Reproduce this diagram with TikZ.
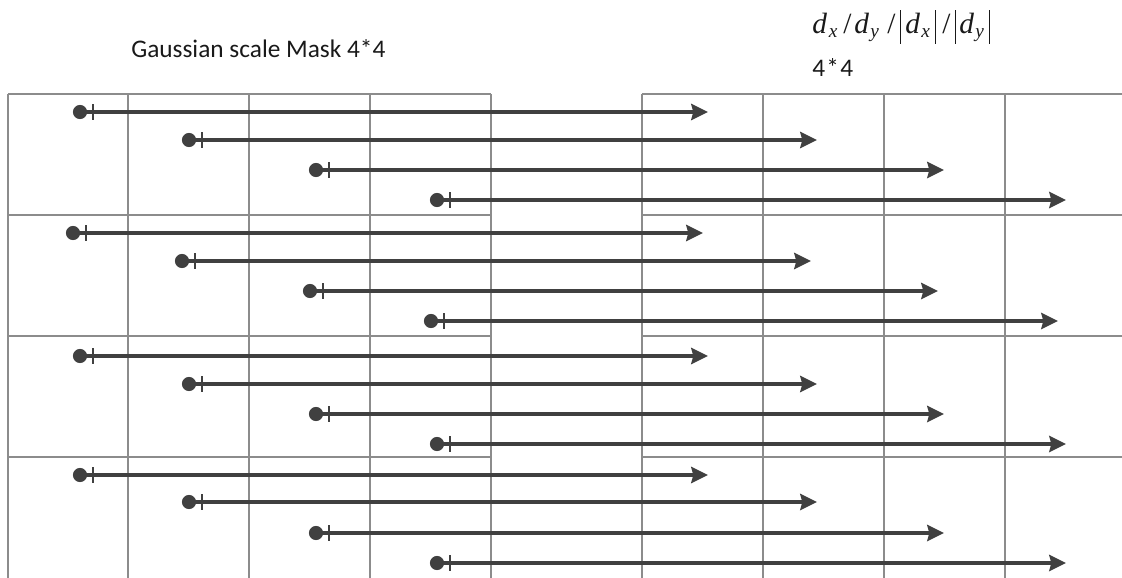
\documentclass[tikz,border=0pt]{standalone}
\usepackage{fontspec}
\setmainfont{Carlito}
\newfontfamily\tms{Liberation Serif}
\usetikzlibrary{arrows.meta}
\tikzset{
  gridline/.style={draw=gray!90, line width=0.8pt},
  vec/.style={draw=black!75, line width=2.9pt, -{Stealth[length=12.5pt,width=12pt,inset=1.5pt]}},
  dotstart/.style={fill=black!75},
  tick/.style={draw=black!75, line width=2.2pt},
  lbl/.style={inner sep=0pt, anchor=west, text=black!90}
}
% place content at a horizontal offset given in px (0.75pt)
\newcommand{\putat}[2]{\makebox[0pt][l]{\hspace*{#1\dimexpr0.75pt\relax}#2}}
\newcommand{\subx}[1]{\raisebox{-3.5pt}{\fontsize{14.5pt}{14.5pt}\selectfont\itshape #1}}
\newcommand{\vbar}{\rule[-8pt]{0.85pt}{25pt}}
\begin{document}
\begin{tikzpicture}[x=0.75pt,y=-0.75pt]
\useasboundingbox (0,0) rectangle (1122,578);
% left grid
\foreach \yy in {94,215,336,457} \draw[gridline] (8,\yy) -- (491,\yy);
\foreach \xx in {8,128,249,370,491} \draw[gridline] (\xx,94) -- (\xx,578);
% right grid
\foreach \yy in {94,215,336,457} \draw[gridline] (642,\yy) -- (1122,\yy);
\foreach \xx in {642,763,884,1005} \draw[gridline] (\xx,94) -- (\xx,578);
% labels
\node[lbl, font=\fontsize{19pt}{22pt}\selectfont] (title) at (131,49) {Gaussian scale Mask 4*4};
\node[inner sep=0pt, anchor=base west, text=black!90, font=\tms\fontsize{22pt}{26pt}\selectfont] (deriv) at (812,33)
  {\putat{0}{\itshape d}\putat{16.5}{\subx{x}}\putat{31}{/}\putat{42}{\itshape d}\putat{58}{\subx{y}}\putat{75}{/}%
   \putat{88}{\vbar}\putat{93}{\itshape d}\putat{109}{\subx{x}}\putat{123}{\vbar}\putat{130}{/}%
   \putat{143}{\vbar}\putat{147}{\itshape d}\putat{163}{\subx{y}}\putat{177}{\vbar}\hspace*{134pt}};
\node[lbl, font=\fontsize{19pt}{22pt}\selectfont] (size) at (812,68) {4\kern1pt*\kern1pt4};
% arrows
\foreach \blk/\rows/\sx/\ex in {
  1/{112,140,170,200}/{80,189,316,437}/{708,817,944,1066},
  2/{233,261,291,321}/{73,182,310,431}/{703,811,938,1058},
  3/{356,384,414,444}/{80,189,316,437}/{708,817,944,1066},
  4/{475,502,533,563}/{80,189,316,437}/{708,817,944,1066}}{
  \foreach \r in {1,2,3,4}{
    \pgfmathsetmacro{\yy}{{\rows}[\r-1]}
    \pgfmathsetmacro{\xs}{{\sx}[\r-1]}
    \pgfmathsetmacro{\xe}{{\ex}[\r-1]}
    \coordinate (s\blk\r) at (\xs,\yy);
    \coordinate (e\blk\r) at (\xe,\yy);
    \coordinate (t\blk\r) at (\xs+13,\yy);
    \draw[vec] (s\blk\r) -- (e\blk\r);
    \fill[dotstart] (s\blk\r) circle (5.3pt);
    \draw[tick] ([yshift=6pt]t\blk\r) -- ([yshift=-6pt]t\blk\r);
  }
}
\end{tikzpicture}
\end{document}
